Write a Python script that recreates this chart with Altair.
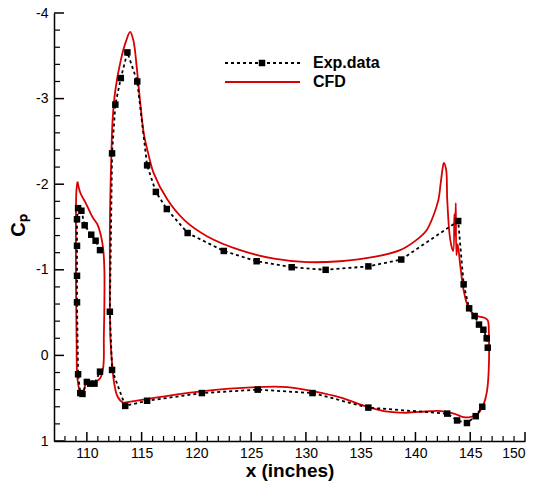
import altair as alt
import pandas as pd

# ---------------- data ----------------
# Experimental data, slat (leading element)
slat_exp_x = [111.2, 110.8, 110.4, 109.8, 109.5, 109.2, 109.1, 109.1, 109.1, 109.1,
              109.2, 109.4, 109.6, 110.0, 110.3, 110.7, 111.2]
slat_exp_cp = [-1.23, -1.34, -1.41, -1.52, -1.69, -1.72, -1.59, -1.28, -0.93, -0.62,
               0.22, 0.44, 0.45, 0.31, 0.33, 0.33, 0.19]

# Experimental data, main element + flap
main_exp_x = [146.6, 146.5, 146.2, 145.8, 145.4, 144.9, 144.4, 143.9, 138.7, 135.7,
              131.8, 128.7, 125.5, 122.5, 119.2, 117.3, 116.3, 115.5, 114.6, 113.7,
              113.1, 112.6, 112.3, 112.1, 112.3, 113.5, 115.5, 120.5, 125.6, 130.6,
              135.7, 142.9, 143.8, 144.7, 145.5, 146.1]
main_exp_cp = [-0.09, -0.20, -0.30, -0.36, -0.46, -0.55, -0.83, -1.57, -1.12, -1.04,
               -1.00, -1.03, -1.10, -1.22, -1.43, -1.71, -1.91, -2.22, -3.20, -3.54,
               -3.24, -2.93, -2.36, -0.51, 0.17, 0.59, 0.53, 0.44, 0.40, 0.44,
               0.61, 0.68, 0.76, 0.79, 0.71, 0.60]

# CFD, slat loop
slat_cfd_x = [109.15, 109.4, 109.9, 110.5, 111.0, 111.3, 111.5, 111.6, 111.6, 111.55,
              111.5, 111.2, 110.7, 110.2, 109.9, 109.75, 109.6, 109.4, 109.2, 109.1,
              109.06, 109.0, 109.0, 109.05, 109.15]
slat_cfd_cp = [-2.03, -1.90, -1.78, -1.62, -1.52, -1.39, -1.23, -1.0, -0.61, -0.22,
               0.13, 0.27, 0.31, 0.31, 0.33, 0.40, 0.44, 0.43, 0.33, 0.20,
               -0.22, -1.0, -1.58, -1.93, -2.03]

# CFD, main element + flap loop
main_cfd_x = [139.2, 137.1, 135.6, 133.1, 130.7, 128.3, 125.5, 120.4, 115.5, 114.0,
              113.3, 112.8, 112.5, 112.3, 112.15, 112.1, 112.1, 112.1, 112.15, 112.25,
              112.35, 112.6, 113.1, 113.6, 113.95, 114.25, 114.55, 114.85, 115.2, 115.6,
              116.1, 117.35, 118.9, 121.0, 124.0, 127.1, 130.1, 133.1, 136.2, 138.6,
              140.1, 141.0, 141.6, 142.1, 142.3, 142.5, 142.6, 142.8, 142.9, 143.1,
              143.3, 143.45, 143.55, 143.62, 143.68, 143.74, 143.85, 144.1, 144.4, 144.8,
              145.4, 146.3, 146.6, 146.7, 146.7, 146.55, 146.25, 145.7, 145.0, 144.4,
              143.5, 142.3, 140.4, 139.2]
main_cfd_cp = [0.67, 0.65, 0.60, 0.49, 0.42, 0.37, 0.37, 0.42, 0.51, 0.54,
               0.55, 0.48, 0.33, 0.09, -0.2, -0.6, -1.0, -1.5, -1.9, -2.4,
               -2.75, -3.10, -3.45, -3.68, -3.78, -3.68, -3.37, -2.98, -2.59, -2.36,
               -2.13, -1.82, -1.58, -1.39, -1.23, -1.13, -1.09, -1.10, -1.15, -1.23,
               -1.35, -1.46, -1.62, -1.82, -2.01, -2.20, -2.25, -2.17, -1.82, -1.43,
               -1.27, -1.22, -1.65, -1.40, -1.78, -1.17, -1.30, -1.04, -0.76, -0.57,
               -0.47, -0.44, -0.41, -0.22, 0.13, 0.40, 0.56, 0.68, 0.72, 0.72,
               0.68, 0.65, 0.66, 0.67]

x_major = [110, 115, 120, 125, 130, 135, 140, 145, 150]
x_minor = [v for v in range(108, 150) if v % 5 != 0]
y_major = [-4, -3, -2, -1, 0, 1]
y_minor = [round(-4 + 0.2 * i, 1) for i in range(26) if i % 5 != 0]

legend_labels = ["Exp.data", "CFD"]

# ---------------- tables ----------------
def table(xs, ys, part):
    return pd.DataFrame({"x": xs, "Cp": ys, "part": part, "idx": range(len(xs))})

exp_df = pd.concat([table(slat_exp_x, slat_exp_cp, "slat"),
                    table(main_exp_x, main_exp_cp, "main")], ignore_index=True)
cfd_df = pd.concat([table(slat_cfd_x, slat_cfd_cp, "slat"),
                    table(main_cfd_x, main_cfd_cp, "main")], ignore_index=True)

W, H = 471, 428
FONT = "Liberation Sans"
RED = "#d80000"

xs = alt.Scale(domain=[107, 150], nice=False, zero=False)
ys = alt.Scale(domain=[-4, 1], nice=False, zero=False, reverse=True)

x_axis = alt.Axis(values=x_major, ticks=False, grid=False, domainColor="black",
                  domainWidth=1.5, labelFont=FONT, labelFontSize=14, labelColor="black",
                  labelPadding=5, labelExpr="'' + datum.value",
                  title="x (inches)", titleFont=FONT, titleFontSize=19,
                  titleFontWeight="bold", titleColor="black",
                  titleY=35, titleBaseline="alphabetic")
y_axis = alt.Axis(values=y_major, ticks=False, grid=False, domainColor="black",
                  domainWidth=1.5, labelFont=FONT, labelFontSize=14, labelColor="black",
                  labelPadding=6, labelExpr="'' + datum.value",
                  title="Cₚ", titleFont=FONT, titleFontSize=20,
                  titleFontWeight="bold", titleColor="black",
                  titleX=-30, titleY=212, titleAngle=270,
                  titleAlign="center", titleBaseline="alphabetic")

X = alt.X("x:Q", scale=xs, axis=x_axis)
Y = alt.Y("Cp:Q", scale=ys, axis=y_axis)

cfd = alt.Chart(cfd_df).mark_line(color=RED, strokeWidth=1.8,
                                  interpolate="catmull-rom").encode(
    x=X, y=Y, detail="part:N", order=alt.Order("idx:Q"))

exp_line = alt.Chart(exp_df).mark_line(color="black", strokeWidth=1.8,
                                       strokeDash=[3, 3]).encode(
    x=X, y=Y, detail="part:N", order=alt.Order("idx:Q"))

exp_pts = alt.Chart(exp_df).mark_square(color="black", size=42, opacity=1).encode(
    x=X, y=Y)

# inward ticks
xmaj = alt.Chart(pd.DataFrame({"x": x_major})).mark_rule(
    color="black", strokeWidth=1.5).encode(x=X, y=alt.value(H), y2=alt.value(H - 9))
xmin = alt.Chart(pd.DataFrame({"x": x_minor})).mark_rule(
    color="black", strokeWidth=1.2).encode(x=X, y=alt.value(H), y2=alt.value(H - 5))
ymaj = alt.Chart(pd.DataFrame({"Cp": y_major})).mark_rule(
    color="black", strokeWidth=1.5).encode(y=Y, x=alt.value(0), x2=alt.value(10))
ymin = alt.Chart(pd.DataFrame({"Cp": y_minor})).mark_rule(
    color="black", strokeWidth=1.2).encode(y=Y, x=alt.value(0), x2=alt.value(6))

# legend
one = alt.Data(values=[{"a": 1}])
leg_exp_line = alt.Chart(one).mark_rule(color="black", strokeWidth=1.8,
                                        strokeDash=[3, 3]).encode(
    x=alt.value(171), x2=alt.value(246), y=alt.value(50))
leg_exp_pt = alt.Chart(one).mark_square(color="black", size=42, opacity=1).encode(
    x=alt.value(208), y=alt.value(50))
leg_cfd_line = alt.Chart(one).mark_rule(color=RED, strokeWidth=1.8).encode(
    x=alt.value(171), x2=alt.value(246), y=alt.value(69))
leg_exp_txt = alt.Chart(one).mark_text(text=legend_labels[0], font=FONT, fontSize=16,
                                       fontWeight="bold", align="left",
                                       baseline="middle", color="black").encode(
    x=alt.value(259), y=alt.value(50))
leg_cfd_txt = alt.Chart(one).mark_text(text=legend_labels[1], font=FONT, fontSize=16,
                                       fontWeight="bold", align="left",
                                       baseline="middle", color="black").encode(
    x=alt.value(259), y=alt.value(69))

chart = alt.layer(
    xmin, xmaj, ymin, ymaj, cfd, exp_line, exp_pts,
    leg_exp_line, leg_exp_pt, leg_cfd_line, leg_exp_txt, leg_cfd_txt
).properties(
    width=W, height=H,
    autosize=alt.AutoSizeParams(type="none"),
    padding={"left": 54, "top": 13, "right": 17, "bottom": 47},
    background="white",
).configure_view(stroke=None)

chart.save("out.html", embed_options={"renderer": "svg", "actions": False})
